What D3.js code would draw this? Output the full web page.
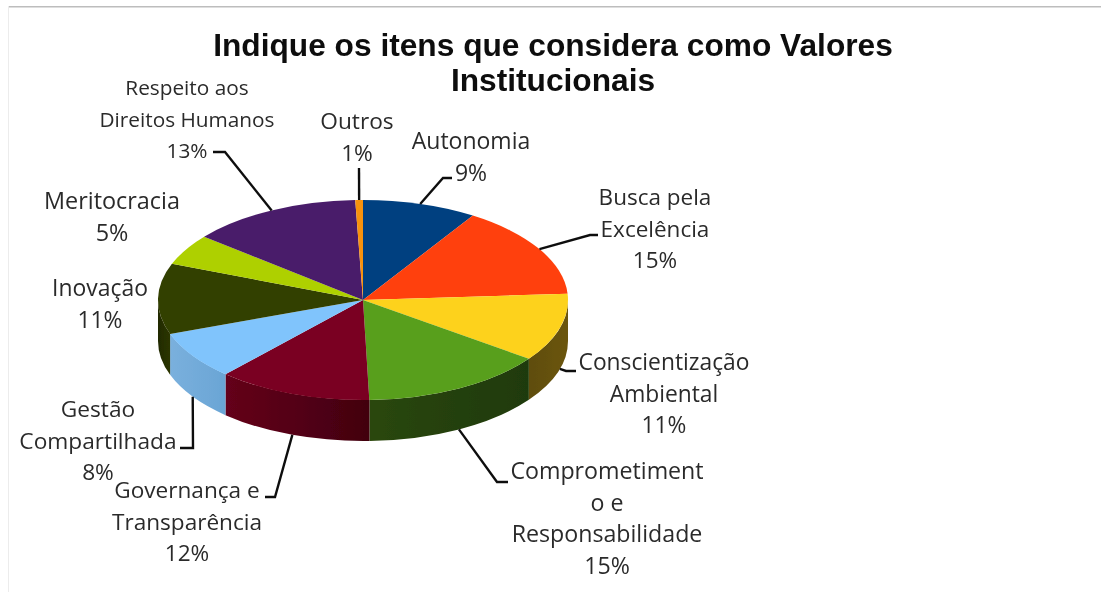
<!DOCTYPE html>
<html><head><meta charset="utf-8">
<script src="https://cdnjs.cloudflare.com/ajax/libs/d3/7.8.5/d3.min.js"></script>
<style>html,body{margin:0;padding:0;background:#fff}svg{display:block}</style>
</head><body><svg id="c" width="1101" height="592"></svg>
<script>
const titleLines = ["Indique os itens que considera como Valores", "Institucionais"];
const categories = ["Autonomia","Busca pela Excelência","Conscientização Ambiental","Comprometimento e Responsabilidade","Governança e Transparência","Gestão Compartilhada","Inovação","Meritocracia","Respeito aos Direitos Humanos","Outros"];
const values = [9, 15, 11, 14.5, 12.2, 7.8, 11.4, 5, 13.5, 0.6];
const percentLabels = ["9%","15%","11%","15%","12%","8%","11%","5%","13%","1%"];
const labelLines = [["Autonomia"],["Busca pela","Excelência"],["Conscientização","Ambiental"],["Comprometiment","o e","Responsabilidade"],["Governança e","Transparência"],["Gestão","Compartilhada"],["Inovação"],["Meritocracia"],["Respeito aos","Direitos Humanos"],["Outros"]];
const topColors = ["#004080","#ff410a","#fdd21d","#589f1a","#7a0020","#80c4fc","#333f00","#aed000","#4a1d6a","#f7920f"];
const sideColors = [["#002040","#002040"],["#802005","#802005"],["#6b5510","#5f4d0c"],["#1f3a08","#2a470b"],["#42000f","#64001a"],["#6aa5d5","#7ab0dd"],["#2b3500","#222a00"],["#576800","#576800"],["#250e35","#250e35"],["#7b4907","#7b4907"]];

// layout
const cx=363, cy=300, rx=205, ry=100, depth=41;
const labelPos=[[471,149],[655,205],[664,370],[607,479],[187,498],[98,417],[100,296],[112,209],[187,95],[357,129]];
const labelSize=[23,22.5,22.8,23.2,22.6,22.7,22.9,23.4,20.8,22.7];
const lineGap=31.5;
const leaderPaths={0:[[443,178],[452,178]],1:[[590,235],[598,235]],2:[[566,371],[576,371]],3:[[497,482],[508,482]],4:[[275,497],[265,497]],5:[[193,448],[180,448]],8:[[225,152],[213,152]],9:[[359,168]]};

const svg=d3.select("#c");
const defs=svg.append("defs");
defs.append("filter").attr("id","soft").attr("x","-2%").attr("y","-2%").attr("width","104%").attr("height","104%")
  .append("feGaussianBlur").attr("stdDeviation",0.45);
const root=svg.append("g").attr("filter","url(#soft)");
root.append("rect").attr("width",1101).attr("height",592).attr("fill","#fff");
root.append("rect").attr("x",8).attr("y",6).attr("width",1093).attr("height",1.5).attr("fill","#bdbdbd");
root.append("rect").attr("x",8).attr("y",6).attr("width",1).attr("height",586).attr("fill","#ececec");

const pie=d3.pie().sort(null).startAngle(0).endAngle(2*Math.PI);
const arcs=pie(values);
const ex=d3.scaleLinear().domain([-1,1]).range([cx-rx,cx+rx]);
const ey=d3.scaleLinear().domain([-1,1]).range([cy-ry,cy+ry]);
const pt=(a,d=0)=>[ex(Math.sin(a)),ey(-Math.cos(a))+d];

// side walls
const sideG=root.append("g");
arcs.forEach((a,i)=>{
  const s=Math.max(a.startAngle,Math.PI/2), e=Math.min(a.endAngle,3*Math.PI/2);
  if(e<=s) return;
  const [x0,y0]=pt(s),[x1,y1]=pt(e);
  const id="g"+i;
  const g=defs.append("linearGradient").attr("id",id).attr("gradientUnits","userSpaceOnUse")
    .attr("x1",x0).attr("x2",x1).attr("y1",0).attr("y2",0);
  g.append("stop").attr("offset",0).attr("stop-color",sideColors[i][0]);
  g.append("stop").attr("offset",1).attr("stop-color",sideColors[i][1]);
  sideG.append("path")
    .attr("d",`M${x0},${y0}A${rx},${ry} 0 0 1 ${x1},${y1}L${x1},${y1+depth}A${rx},${ry} 0 0 0 ${x0},${y0+depth}Z`)
    .attr("fill",`url(#${id})`);
});

// top face
const arc=d3.arc().innerRadius(0).outerRadius(1);
root.append("g").attr("transform",`translate(${cx},${cy}) scale(${rx},${ry})`)
  .selectAll("path").data(arcs).join("path")
  .attr("d",arc).attr("fill",(d,i)=>topColors[i]);

// leader lines
const line=d3.line();
Object.keys(leaderPaths).forEach(k=>{
  const i=+k,a=arcs[i],mid=(a.startAngle+a.endAngle)/2;
  const below=Math.cos(mid)<0;
  const start=pt(mid,below?depth:0);
  root.append("path").attr("d",line([start,...leaderPaths[k]])).attr("fill","none").attr("stroke","#111").attr("stroke-width",2.4);
});

// labels
const lab=root.append("g").attr("font-family","'Open Sans',sans-serif").attr("fill","#2b2b2b").attr("text-anchor","middle");
labelLines.forEach((ls,i)=>{
  const [x,y]=labelPos[i];
  [...ls,percentLabels[i]].forEach((t,j)=>{
    lab.append("text").attr("x",x).attr("y",y+j*lineGap).attr("font-size",labelSize[i]).text(t);
  });
});

// title
const tg=root.append("g").attr("font-family","'Liberation Sans',Arial,sans-serif").attr("font-weight","bold").attr("font-size",31.7).attr("fill","#111").attr("text-anchor","middle");
titleLines.forEach((t,j)=>tg.append("text").attr("x",553).attr("y",56+j*35).text(t));
</script></body></html>
